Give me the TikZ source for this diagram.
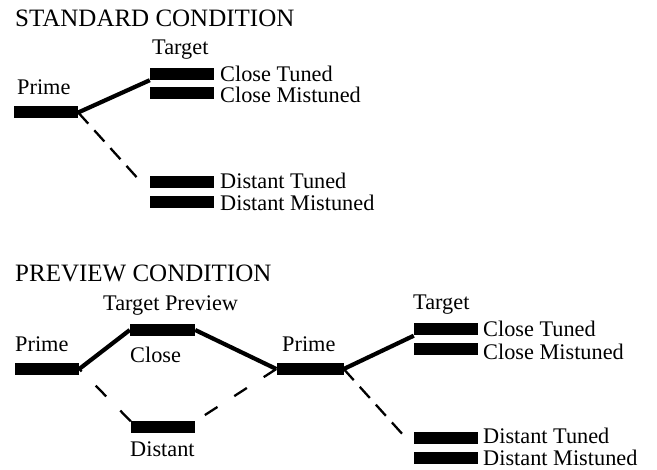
\documentclass[tikz,border=0pt]{standalone}
\usepackage{fontspec}
\setmainfont{Liberation Serif}

\begin{document}
\begin{tikzpicture}[x=1pt,y=1pt,yscale=-1,xscale=1,
	bar/.style={fill=black, minimum width=64pt, minimum height=12pt, inner sep=0pt},
	lbl/.style={anchor=base west, inner sep=0pt, font=\fontsize{22.3pt}{27pt}\selectfont},
	head/.style={lbl, font=\fontsize{25pt}{29pt}\selectfont},
	solid link/.style={line width=4.2pt},
	tight dash/.style={line width=2.3pt, dash pattern={on 15pt off 9pt}},
	wide dash/.style={line width=2.3pt, dash pattern={on 15pt off 20pt}}]
				\useasboundingbox (0,0) rectangle (657,470); %picture is 657 x 470

				%Shape: Rectangle [standard condition bars]
				\draw (46,112.5) node [bar] (sp) {};
				\draw (182,74) node [bar] (sct) {};
				\draw (182,93.5) node [bar] (scm) {};
				\draw (182,182) node [bar] (sdt) {};
				\draw (182,202.5) node [bar] (sdm) {};
				%Shape: Rectangle [preview condition bars]
				\draw (47,369) node [bar] (pp) {};
				\draw (162.5,330) node [bar, minimum width=65pt] (pcl) {};
				\draw (163,427.5) node [bar] (pdi) {};
				\draw (310,369) node [bar, minimum width=67pt] (pq) {};
				\draw (446,329.5) node [bar] (pct) {};
				\draw (446,349.5) node [bar] (pcm) {};
				\draw (446,438) node [bar] (pdt) {};
				\draw (446,458) node [bar] (pdm) {};

				%Straight Lines [standard]
				\draw [solid link]  (sp.east) -- (sct.south west) ;
				\coordinate (sdend) at (141,182);
				\draw [tight dash]  (sp.east) -- (sdend) ;
				%Straight Lines [preview]
				\draw [solid link]  (pp.east) -- (pcl.west) ;
				\draw [solid link]  (pcl.east) -- (pq.west) ;
				\draw [wide dash]  (pdi.north west) -- (pp.east) ;
				\draw [wide dash]  (pq.west) -- (pdi.north east) ;
				\draw [solid link]  (pq.east) -- (pct.south west) ;
				\coordinate (pdend) at (405,437);
				\draw [tight dash]  (pq.east) -- (pdend) ;

				% Text Node
				\draw (15,27) node [head] (stdhead) {STANDARD CONDITION};
				% Text Node
				\draw (152,55) node [lbl] (sttarget) {Target};
				% Text Node
				\draw (17,95) node [lbl] (stprime) {Prime};
				% Text Node
				\draw (220,82) node [lbl] (stct) {Close Tuned};
				% Text Node
				\draw (220,103) node [lbl] (stcm) {Close Mistuned};
				% Text Node
				\draw (220,189) node [lbl] (stdt) {Distant Tuned};
				% Text Node
				\draw (220,211) node [lbl] (stdm) {Distant Mistuned};
				% Text Node
				\draw (15,282) node [head] (prvhead) {PREVIEW CONDITION};
				% Text Node
				\draw (103,311) node [lbl] (prvtp) {Target Preview};
				% Text Node
				\draw (15,352) node [lbl] (prvprime) {Prime};
				% Text Node
				\draw (130,363) node [lbl] (prvclose) {Close};
				% Text Node
				\draw (130,457) node [lbl] (prvdist) {Distant};
				% Text Node
				\draw (282,352) node [lbl] (prvprimeb) {Prime};
				% Text Node
				\draw (413,310) node [lbl] (prvtarget) {Target};
				% Text Node
				\draw (483,337) node [lbl] (prvct) {Close Tuned};
				% Text Node
				\draw (483,360) node [lbl] (prvcm) {Close Mistuned};
				% Text Node
				\draw (483,444) node [lbl] (prvdt) {Distant Tuned};
				% Text Node
				\draw (483,466) node [lbl] (prvdm) {Distant Mistuned};

\end{tikzpicture}
\end{document}
